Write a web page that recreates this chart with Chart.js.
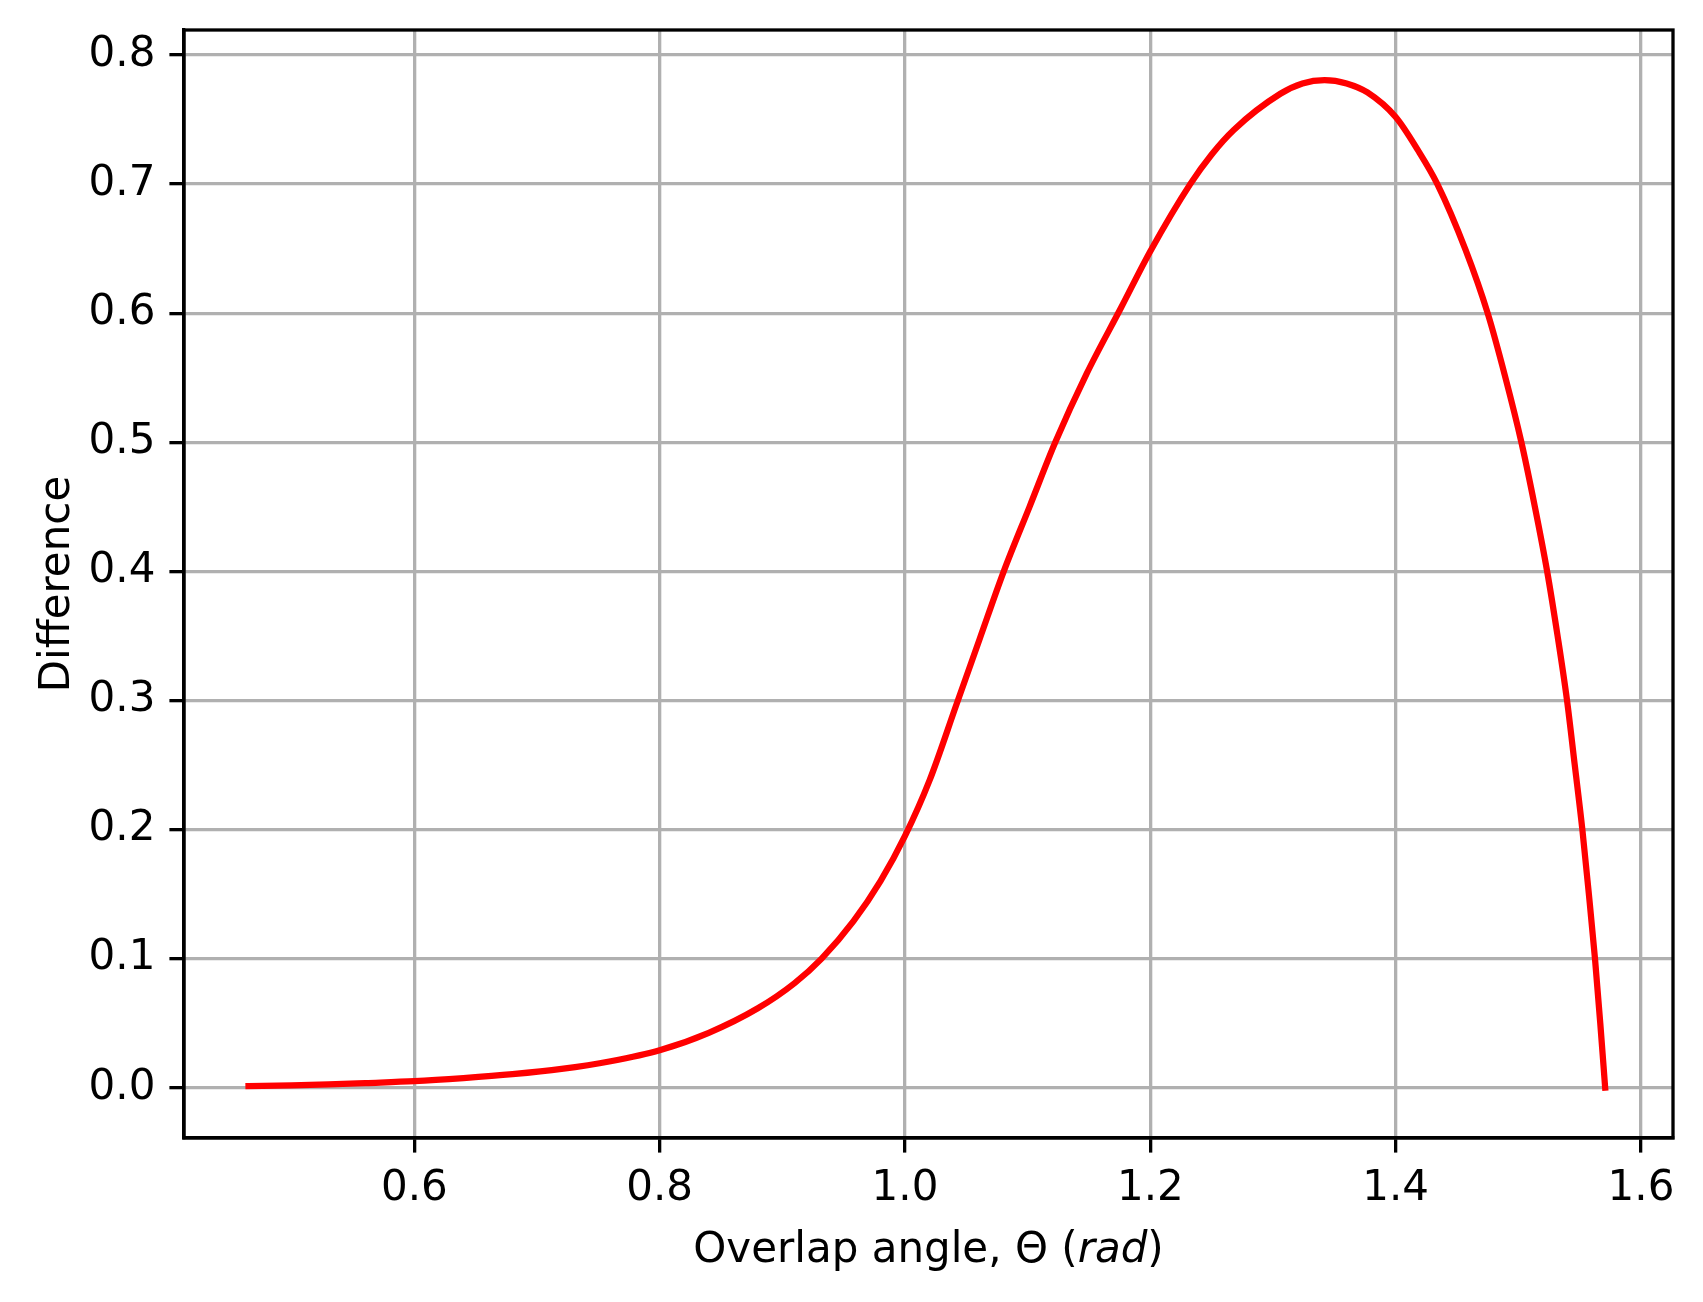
<!DOCTYPE html>
<html>
<head>
<meta charset="utf-8">
<script src="https://cdn.jsdelivr.net/npm/chart.js@4/dist/chart.umd.min.js"></script>
<style>
  html, body { margin: 0; padding: 0; background: #fff; }
  #wrap { width: 1703px; height: 1302px; }
</style>
</head>
<body>
<div id="wrap"><canvas id="diffChart" width="1703" height="1302"></canvas></div>
<script>
// Overlap angle (rad) and the difference
const thetaValues = [
  0.4648, 0.50, 0.53, 0.56, 0.60, 0.64, 0.68, 0.72, 0.76, 0.80,
  0.84, 0.88, 0.91, 0.932, 0.958, 0.98, 1.00, 1.02, 1.042, 1.061,
  1.0805, 1.1015, 1.1225, 1.148, 1.176, 1.20, 1.2325, 1.25, 1.268, 1.306,
  1.324, 1.342, 1.36, 1.377, 1.40, 1.418, 1.434, 1.457, 1.475, 1.4895,
  1.5025, 1.5135, 1.5235, 1.532, 1.5397, 1.546, 1.5522, 1.5575, 1.5625, 1.5668,
  1.5708
];
const differenceValues = [
  0.0012, 0.0018, 0.0026, 0.0036, 0.0050, 0.0074, 0.0104, 0.0145, 0.0205, 0.0290,
  0.0425, 0.0615, 0.081, 0.100, 0.129, 0.160, 0.195, 0.238, 0.297, 0.348,
  0.400, 0.450, 0.500, 0.553, 0.604, 0.648, 0.700, 0.723, 0.742, 0.770,
  0.778, 0.7806, 0.778, 0.771, 0.752, 0.7265, 0.700, 0.649, 0.600, 0.550,
  0.500, 0.450, 0.400, 0.350, 0.300, 0.250, 0.200, 0.150, 0.100, 0.050,
  0.000
];
const xTicks = [0.6, 0.8, 1.0, 1.2, 1.4, 1.6];
const yTicks = [0.0, 0.1, 0.2, 0.3, 0.4, 0.5, 0.6, 0.7, 0.8];

const FONT = "'DejaVu Sans'";
const LW = 3.3;

const points = thetaValues.map((t, i) => ({ x: t, y: differenceValues[i] }));

// box around the plot + x label with italic "rad"
const framePlugin = {
  id: "frame",
  afterDraw(chart) {
    const { ctx, chartArea: a } = chart;
    ctx.save();
    ctx.strokeStyle = "#000";
    ctx.lineWidth = LW;
    ctx.strokeRect(a.left, a.top, a.right - a.left, a.bottom - a.top);

    const parts = [
      ["Overlap angle, \u0398 (", "42px " + FONT],
      ["rad", "italic 42px " + FONT],
      [")", "42px " + FONT]
    ];
    let total = 0;
    parts.forEach(p => { ctx.font = p[1]; total += ctx.measureText(p[0]).width; });
    let x = (a.left + a.right) / 2 - total / 2;
    const y = a.bottom + 124;
    ctx.fillStyle = "#000";
    ctx.textBaseline = "alphabetic";
    ctx.textAlign = "left";
    parts.forEach(p => {
      ctx.font = p[1];
      ctx.fillText(p[0], x, y);
      x += ctx.measureText(p[0]).width;
    });
    ctx.restore();
  }
};

// keep the plot box fixed, no extra room for label overflow
function noPad(s) {
  s.paddingTop = 0;
  s.paddingBottom = 0;
  s.paddingLeft = 0;
  s.paddingRight = 0;
}

const ctx = document.getElementById("diffChart").getContext("2d");
new Chart(ctx, {
  type: "line",
  data: {
    datasets: [{
      data: points,
      borderColor: "#ff0000",
      borderWidth: 6.25,
      borderCapStyle: "square",
      pointRadius: 0,
      cubicInterpolationMode: "monotone",
      fill: false
    }]
  },
  options: {
    responsive: false,
    devicePixelRatio: 1,
    animation: false,
    layout: { padding: { left: 0, top: 30, right: 30, bottom: 0 } },
    plugins: { legend: { display: false }, tooltip: { enabled: false } },
    scales: {
      x: {
        type: "linear",
        min: 0.4122,
        max: 1.6261,
        afterFit: s => { s.height = 164; noPad(s); },
        afterBuildTicks: s => { s.ticks = xTicks.map(v => ({ value: v })); },
        ticks: {
          includeBounds: false,
          stepSize: 0.2,
          color: "#000",
          padding: 11,
          maxRotation: 0,
          font: { family: FONT, size: 42 },
          callback: v => Number(v).toFixed(1)
        },
        grid: { color: "#b0b0b0", lineWidth: LW, tickColor: "#000", tickLength: 14.6, tickWidth: LW },
        border: { color: "#000", width: LW }
      },
      y: {
        min: -0.039,
        max: 0.8194,
        afterFit: s => { s.width = 184; noPad(s); },
        afterBuildTicks: s => { s.ticks = yTicks.map(v => ({ value: v })); },
        ticks: {
          includeBounds: false,
          stepSize: 0.1,
          color: "#000",
          padding: 14,
          font: { family: FONT, size: 42 },
          callback: v => Number(v).toFixed(1)
        },
        grid: { color: "#b0b0b0", lineWidth: LW, tickColor: "#000", tickLength: 14.6, tickWidth: LW },
        border: { color: "#000", width: LW },
        title: {
          display: true,
          text: "Difference",
          color: "#000",
          font: { family: FONT, size: 42 },
          padding: { top: 33, bottom: 0 }
        }
      }
    }
  },
  plugins: [framePlugin]
});
</script>
</body>
</html>
